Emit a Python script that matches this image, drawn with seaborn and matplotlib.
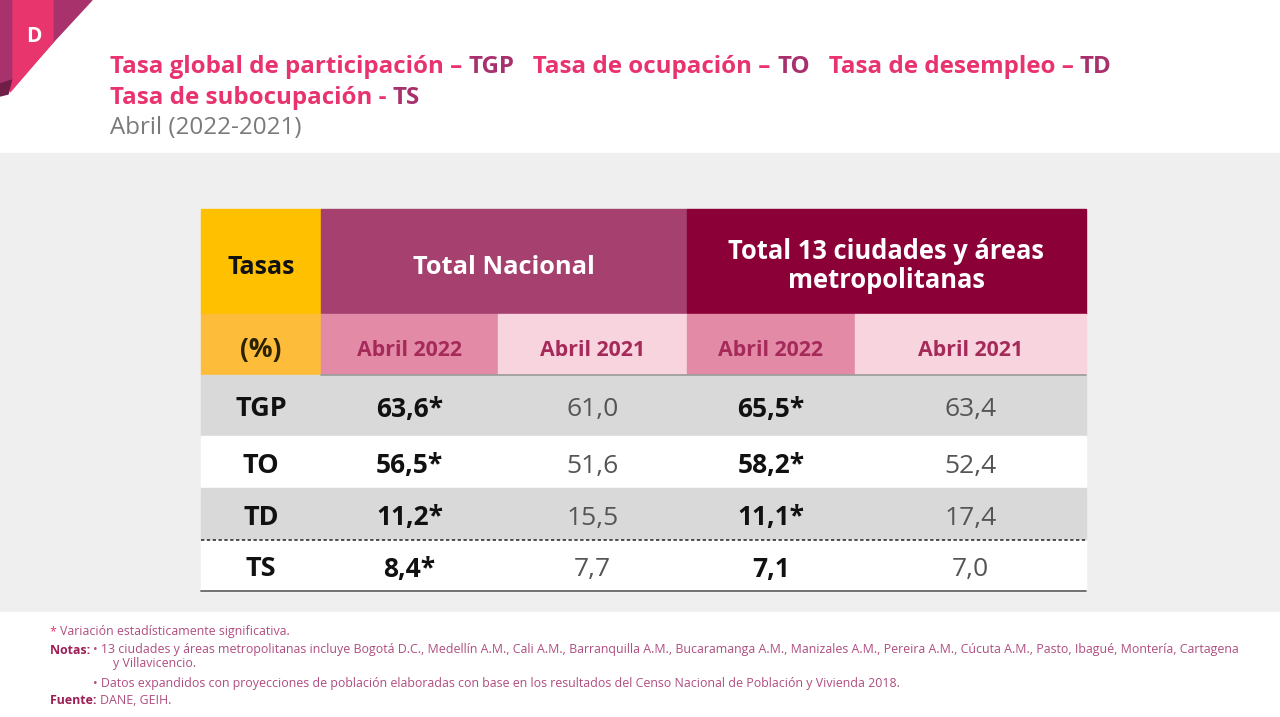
import numpy as np
import pandas as pd
import seaborn as sns
import matplotlib.pyplot as plt
from matplotlib.patches import Rectangle, Polygon

# data
rates = ["TGP", "TO", "TD", "TS"]
nac_2022 = [63.6, 56.5, 11.2, 8.4]
nac_2021 = [61.0, 51.6, 15.5, 7.7]
cd_2022 = [65.5, 58.2, 11.1, 7.1]
cd_2021 = [63.4, 52.4, 17.4, 7.0]
sig_nac = [True, True, True, True]
sig_cd = [True, True, True, False]
groups = ["Total Nacional", "Total 13 ciudades y áreas\nmetropolitanas"]
periods = ["Abril 2022", "Abril 2021"]

df = pd.DataFrame({"rate": rates, "nac_2022": nac_2022, "nac_2021": nac_2021,
                   "cd_2022": cd_2022, "cd_2021": cd_2021})

sns.set_theme(style="white")
plt.rcParams['font.family'] = ['Open Sans', 'DejaVu Sans']


def fmt(v, star):
    s = f"{v:.1f}".replace(".", ",")
    return s + "*" if star else s


fig = plt.figure(figsize=(12.8, 7.17), dpi=100)
ax = fig.add_axes([0, 0, 1, 1])
ax.set_xlim(0, 1280)
ax.set_ylim(717, 0)
ax.axis("off")
fig.canvas.draw()
r = fig.canvas.get_renderer()


def run_text(x, y, parts, **kw):
    # write text segments one after another on the same line
    for txt, col, weight in parts:
        t = ax.text(x, y, txt, color=col, fontweight=weight, ha="left", va="center", **kw)
        x += t.get_window_extent(renderer=r).width
    return x


# background bands
ax.add_patch(Rectangle((0, 0), 1280, 153, color="white", zorder=0))
ax.add_patch(Rectangle((0, 153), 1280, 459, color="#efefef", zorder=0))
ax.add_patch(Rectangle((0, 612), 1280, 105, color="white", zorder=0))

# logo
ax.add_patch(Polygon([(0, 0), (92, 0), (55, 40), (12, 88), (0, 92)], color="#a8336c", zorder=1))
ax.add_patch(Polygon([(13, 0), (53, 0), (53, 42), (10, 92), (13, 80)], color="#e8356e", zorder=2))
ax.add_patch(Polygon([(0, 84), (12, 80), (8, 94), (0, 96)], color="#6f1f47", zorder=1))
ax.text(34, 36, "D", color="white", fontsize=15, fontweight="bold", ha="center", va="center", zorder=3)

# title
pink = "#e8336e"
purple = "#a8306c"
run_text(110, 67, [("Tasa global de participación – ", pink, "bold"), ("TGP", purple, "bold"),
                   ("   Tasa de ocupación – ", pink, "bold"), ("TO", purple, "bold"),
                   ("   Tasa de desempleo – ", pink, "bold"), ("TD", purple, "bold")], fontsize=17.4)
run_text(110, 98, [("Tasa de subocupación - ", pink, "bold"), ("TS", purple, "bold")], fontsize=17.4)
ax.text(110, 128, "Abril (2022-2021)", color="#7a7a7a", fontsize=17.4, ha="left", va="center")

# table geometry
cols = [201, 321, 498, 687, 855, 1086]
rows = [375, 436, 488, 540, 591]
h1, h2 = 209, 314

# header row 1
ax.add_patch(Rectangle((cols[0], h1), cols[1] - cols[0], h2 - h1, color="#ffc000"))
ax.add_patch(Rectangle((cols[1], h1), cols[3] - cols[1], h2 - h1, color="#a5406f"))
ax.add_patch(Rectangle((cols[3], h1), cols[5] - cols[3], h2 - h1, color="#8b0037"))
ax.text((cols[0] + cols[1]) / 2, 268, "Tasas", fontsize=18, fontweight="bold", color="#111111",
        ha="center", va="center")
ax.text((cols[1] + cols[3]) / 2, 268, groups[0], fontsize=18.3, fontweight="bold", color="white",
        ha="center", va="center")
ax.text((cols[3] + cols[5]) / 2, 266, groups[1], fontsize=18.4, fontweight="bold", color="white",
        ha="center", va="center", linespacing=1.05)

# header row 2
ax.add_patch(Rectangle((cols[0], h2), cols[1] - cols[0], rows[0] - h2, color="#fdbc3a"))
ax.text((cols[0] + cols[1]) / 2, 350, "(%)", fontsize=19, fontweight="bold", color="#2b2200",
        ha="center", va="center")
sub_colors = ["#e38ba6", "#f8d5de"]
for i in range(4):
    ax.add_patch(Rectangle((cols[i + 1], h2), cols[i + 2] - cols[i + 1], rows[0] - h2,
                           color=sub_colors[i % 2]))
    ax.text((cols[i + 1] + cols[i + 2]) / 2, 350, periods[i % 2], fontsize=15.4, fontweight="bold",
            color="#a52a5a", ha="center", va="center")
ax.plot([cols[1], cols[5]], [rows[0], rows[0]], color="#9a9a9a", lw=1.2)

# body rows
row_bg = ["#d9d9d9", "white", "#d9d9d9", "white"]
for i, row in df.iterrows():
    top, bot = rows[i], rows[i + 1]
    yc = (top + bot) / 2 + 4
    ax.add_patch(Rectangle((cols[0], top), cols[5] - cols[0], bot - top, color=row_bg[i]))
    ax.text((cols[0] + cols[1]) / 2, yc, row["rate"], fontsize=19.5, fontweight="bold",
            color="#111111", ha="center", va="center")
    ax.text((cols[1] + cols[2]) / 2, yc, fmt(row["nac_2022"], sig_nac[i]), fontsize=19,
            fontweight="bold", color="#111111", ha="center", va="center")
    ax.text((cols[2] + cols[3]) / 2, yc, fmt(row["nac_2021"], False), fontsize=19,
            color="#555555", ha="center", va="center")
    ax.text((cols[3] + cols[4]) / 2, yc, fmt(row["cd_2022"], sig_cd[i]), fontsize=19,
            fontweight="bold", color="#111111", ha="center", va="center")
    ax.text((cols[4] + cols[5]) / 2, yc, fmt(row["cd_2021"], False), fontsize=19,
            color="#555555", ha="center", va="center")

ax.plot([cols[0], cols[5]], [rows[3], rows[3]], color="#333333", lw=1.2, ls=(0, (2, 1.5)))
ax.plot([cols[0], cols[5]], [rows[4], rows[4]], color="#666666", lw=1.3)

# footer
fc = "#9c1f55"
tc = "#b04d80"
fs = 8.9
run_text(50, 632, [("* ", pink, "normal"), ("Variación estadísticamente significativa.", tc, "normal")],
         fontsize=fs)
run_text(50, 650, [("Notas: ", fc, "bold")], fontsize=fs)
ax.text(93, 650, "• 13 ciudades y áreas metropolitanas incluye Bogotá D.C., Medellín A.M., Cali A.M., "
        "Barranquilla A.M., Bucaramanga A.M., Manizales A.M., Pereira A.M., Cúcuta A.M., Pasto, "
        "Ibagué, Montería, Cartagena", color=tc, fontsize=fs, ha="left", va="center")
ax.text(113, 664, "y Villavicencio.", color=tc, fontsize=fs, ha="left", va="center")
ax.text(93, 683, "• Datos expandidos con proyecciones de población elaboradas con base en los resultados "
        "del Censo Nacional de Población y Vivienda 2018.", color=tc, fontsize=fs,
        ha="left", va="center")
run_text(50, 700, [("Fuente: ", fc, "bold"), ("DANE, GEIH.", tc, "normal")], fontsize=fs)

fig.savefig("out.png", dpi=100)
